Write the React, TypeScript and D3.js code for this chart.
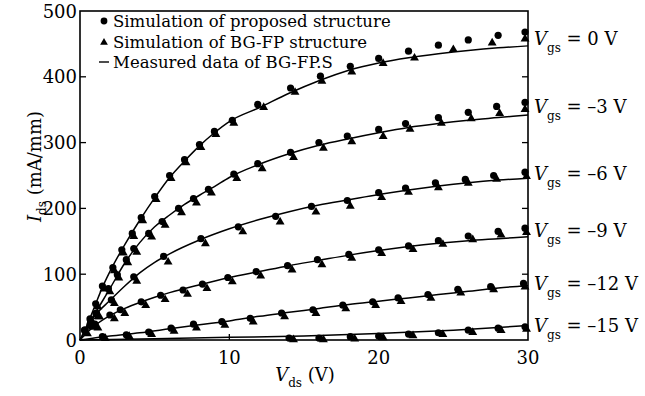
import * as d3 from "d3";

// Vds (V), Ids (mA/mm)
const gateLabels = ["0", "\u20133", "\u20136", "\u20139", "\u201312", "\u201315"];
const labelIds = [458, 354, 253, 165, 85, 22];

const measured0: [number, number][] = [[0, 0], [0.5, 24], [1, 52], [1.5, 80], [2, 104], [3, 145], [4, 182], [5, 216], [6, 247], [7, 272], [8, 295], [9, 315], [10, 332], [12, 353], [14, 375], [16, 394], [18, 410], [20, 421], [22, 429], [24, 435], [26, 440], [28, 444], [30, 447]];
const measured3: [number, number][] = [[0, 0], [1, 40], [2, 78], [3, 117], [4, 148], [5, 172], [6, 190], [7, 206], [8, 220], [9, 233], [10, 247], [12, 267], [14, 283], [16, 296], [18, 306], [20, 315], [22, 323], [24, 329], [26, 334], [28, 338], [30, 342]];
const measured6: [number, number][] = [[0, 0], [1, 37], [2, 60], [3, 82], [4, 102], [5, 118], [6, 131], [8, 152], [10, 169], [12, 183], [14, 195], [16, 205], [18, 213], [20, 221], [22, 228], [24, 234], [26, 239], [28, 243], [30, 246]];
const measured9: [number, number][] = [[0, 0], [1, 22], [2, 37], [3, 48], [4, 57], [5, 65], [6, 72], [8, 84], [10, 95], [12, 104], [14, 113], [16, 121], [18, 129], [20, 136], [22, 142], [24, 147], [26, 151], [28, 154], [30, 157]];
const measured12: [number, number][] = [[0, 0], [2, 6], [4, 11], [6, 17], [8, 23], [10, 29], [12, 36], [14, 42], [16, 48], [18, 54], [20, 59], [22, 64], [24, 69], [26, 74], [28, 79], [30, 83]];
const measured15: [number, number][] = [[0, 0], [5, 2], [10, 4], [15, 6], [20, 10], [25, 15], [30, 22]];

const proposed0: [number, number][] = [[0.33, 15], [0.67, 32], [1.05, 55], [1.5, 82], [2.2, 110], [2.8, 137], [3.5, 162], [4.1, 186], [5, 218], [6, 250], [7, 274], [8, 297], [9, 317], [10.2, 334], [11.9, 358], [14.1, 383], [16.1, 401], [18.1, 416], [20, 428], [22, 439], [24, 448], [26, 456], [28, 463], [29.8, 468]];
const proposed3: [number, number][] = [[0.67, 23], [1.07, 40], [1.9, 78], [2.5, 99], [3.1, 122], [3.6, 139], [4.6, 162], [5.5, 180], [6.6, 200], [7.6, 215], [8.6, 229], [10.3, 252], [11.9, 268], [14.1, 285], [16, 300], [17.9, 310], [20, 320], [21.8, 329], [24, 338], [26, 346], [27.9, 355], [29.8, 361]];
const proposed6: [number, number][] = [[0.7, 26], [1.1, 41], [2.1, 61], [3.6, 96], [5.6, 127], [8.1, 154], [10.6, 172], [13.1, 188], [15.5, 203], [17.9, 212], [20, 224], [21.8, 231], [23.8, 239], [25.8, 244], [27.7, 250], [29.8, 255]];
const proposed9: [number, number][] = [[0.3, 15], [1, 24], [2, 38], [2.7, 46], [4.1, 58], [5.4, 68], [6.9, 76], [8.2, 85], [9.9, 95], [11.8, 104], [13.9, 113], [15.9, 122], [18, 130], [20, 137], [22, 143], [24, 151], [26, 158], [28, 165], [29.8, 170]];
const proposed12: [number, number][] = [[1.5, 5], [3.1, 8], [4.6, 12], [6.1, 18], [7.6, 24], [9.5, 28], [11.4, 33], [13.5, 41], [15.6, 46], [17.6, 53], [19.6, 58], [21.3, 64], [23.3, 69], [25.3, 77], [27.5, 81], [29.7, 86]];
const proposed15: [number, number][] = [[14, 3], [16, 3], [18.1, 5], [20, 6], [22, 9], [24, 11], [26, 15], [28, 18], [29.8, 20]];

const bgfp0: [number, number][] = [[0.4, 13], [0.8, 30], [1.2, 52], [1.6, 79], [2.3, 107], [2.9, 134], [3.6, 159], [4.2, 183], [5.1, 215], [6.1, 247], [7.1, 271], [8.1, 294], [9.1, 314], [10.3, 331], [12.3, 355], [14.4, 378], [16.2, 395], [18.2, 409], [20.3, 422], [22.4, 430], [25, 443], [27.6, 453], [29.8, 459]];
const bgfp3: [number, number][] = [[0.8, 21], [1.2, 37], [2.0, 75], [2.6, 96], [3.2, 119], [3.8, 135], [4.8, 158], [5.7, 176], [6.8, 195], [7.8, 210], [8.8, 225], [10.5, 247], [12.2, 262], [14.3, 279], [16.3, 293], [18.2, 303], [20.3, 311], [22.1, 322], [24.2, 331], [26.2, 338], [28.1, 346], [29.8, 352]];
const bgfp6: [number, number][] = [[0.85, 23], [1.3, 37], [2.3, 57], [3.8, 91], [5.9, 120], [8.4, 148], [10.9, 166], [13.4, 181], [15.8, 196], [18.1, 205], [20.2, 218], [22, 226], [24, 233], [26, 240], [27.9, 246], [29.9, 250]];
const bgfp9: [number, number][] = [[0.5, 11], [1.2, 20], [2.3, 34], [3, 42], [4.4, 54], [5.7, 63], [7.2, 71], [8.5, 80], [10.2, 90], [12.1, 99], [14.2, 108], [16.2, 116], [18.2, 126], [20.2, 133], [22.3, 139], [24.3, 147], [26.3, 154], [28.2, 161], [29.9, 165]];
const bgfp12: [number, number][] = [[1.7, 4], [3.3, 7], [4.8, 10], [6.3, 15], [7.8, 20], [9.7, 24], [11.6, 29], [13.7, 37], [15.8, 42], [17.8, 49], [19.8, 54], [21.5, 60], [23.5, 65], [25.5, 73], [27.7, 78], [29.8, 82]];
const bgfp15: [number, number][] = [[14.3, 2], [16.3, 2], [18.4, 3], [20.3, 5], [22.3, 8], [24.3, 10], [26.3, 13], [28.2, 16], [29.9, 18]];

const measured = [measured0, measured3, measured6, measured9, measured12, measured15];
const proposed = [proposed0, proposed3, proposed6, proposed9, proposed12, proposed15];
const bgfp = [bgfp0, bgfp3, bgfp6, bgfp9, bgfp12, bgfp15];

const vdsTicks = [0, 10, 20, 30];
const idsTicks = [0, 100, 200, 300, 400, 500];
const legendItems = ["Simulation of proposed structure", "Simulation of BG-FP structure", "Measured data of BG-FP.S"];

const W = 645;
const H = 396;
const margin = { top: 11, right: 117, bottom: 56, left: 80 };
const font = '"DejaVu Serif", serif';

export default function App() {
  const x = d3.scaleLinear().domain([0, 30]).range([margin.left, W - margin.right]);
  const y = d3.scaleLinear().domain([0, 500]).range([H - margin.bottom, margin.top]);
  const line = d3
    .line<[number, number]>()
    .x((d) => x(d[0]))
    .y((d) => y(d[1]))
    .curve(d3.curveMonotoneX);
  const tri = d3.symbol(d3.symbolTriangle, 34)();

  const x0 = x(0);
  const x1 = x(30);
  const y0 = y(0);
  const y1 = y(500);

  return (
    <svg width={W} height={H} style={{ position: "absolute", left: 0, top: 0, background: "#fff", fontFamily: font }}>
      {/* curves */}
      {measured.map((m, i) => (
        <path key={"m" + i} d={line(m) || ""} fill="none" stroke="#000" strokeWidth={1.5} />
      ))}
      {bgfp.map((s, i) =>
        s.map((d, j) => <path key={`t${i}-${j}`} d={tri} transform={`translate(${x(d[0])},${y(d[1]) + 1})`} fill="#000" />)
      )}
      {proposed.map((s, i) =>
        s.map((d, j) => <circle key={`c${i}-${j}`} cx={x(d[0])} cy={y(d[1])} r={3.6} fill="#000" />)
      )}

      {/* frame */}
      <rect x={x0} y={y1} width={x1 - x0} height={y0 - y1} fill="none" stroke="#000" strokeWidth={1.6} />
      {idsTicks.slice(1, -1).map((t) => (
        <g key={"yt" + t}>
          <line x1={x0} x2={x0 + 6} y1={y(t)} y2={y(t)} stroke="#000" strokeWidth={1.3} />
          <line x1={x1} x2={x1 - 6} y1={y(t)} y2={y(t)} stroke="#000" strokeWidth={1.3} />
        </g>
      ))}
      {vdsTicks.slice(1, -1).map((t) => (
        <line key={"xt" + t} x1={x(t)} x2={x(t)} y1={y0} y2={y0 - 6} stroke="#000" strokeWidth={1.3} />
      ))}

      {/* tick labels */}
      {idsTicks.map((t) => (
        <text key={"yl" + t} x={x0 - 3} y={y(t) + 6.5} fontSize={18} textAnchor="end">
          {t}
        </text>
      ))}
      {vdsTicks.map((t) => (
        <text key={"xl" + t} x={x(t)} y={y0 + 24} fontSize={18} textAnchor="middle">
          {t}
        </text>
      ))}

      {/* axis titles */}
      <text x={305} y={381} fontSize={18} textAnchor="middle">
        <tspan fontStyle="italic">V</tspan>
        <tspan fontSize={12} dy={6}>ds</tspan>
        <tspan dy={-6}> (V)</tspan>
      </text>
      <text transform={`translate(41,${(y0 + y1) / 2 - 9}) rotate(-90)`} fontSize={18} textAnchor="middle">
        <tspan fontStyle="italic">I</tspan>
        <tspan fontSize={12} dy={5}>ds</tspan>
        <tspan dy={-5}> (mA/mm)</tspan>
      </text>

      {/* Vgs labels */}
      {gateLabels.map((g, i) => (
        <text key={"g" + i} x={x1 + 6} y={y(labelIds[i]) + 6} fontSize={18}>
          <tspan fontStyle="italic">V</tspan>
          <tspan fontSize={12} dy={7}>gs</tspan>
          <tspan dy={-7}>{` = ${g} V`}</tspan>
        </text>
      ))}

      {/* legend */}
      {legendItems.map((t, i) => {
        const ly = 27 + i * 20.5;
        return (
          <g key={"lg" + i}>
            {i === 0 && <circle cx={104} cy={ly - 6} r={3.4} fill="#000" />}
            {i === 1 && <path d={d3.symbol(d3.symbolTriangle, 26)() || ""} transform={`translate(104,${ly - 5})`} fill="#000" />}
            {i === 2 && <line x1={99} x2={109} y1={ly - 6} y2={ly - 6} stroke="#000" strokeWidth={1.4} />}
            <text x={113} y={ly} fontSize={16.5}>
              {t}
            </text>
          </g>
        );
      })}
    </svg>
  );
}
